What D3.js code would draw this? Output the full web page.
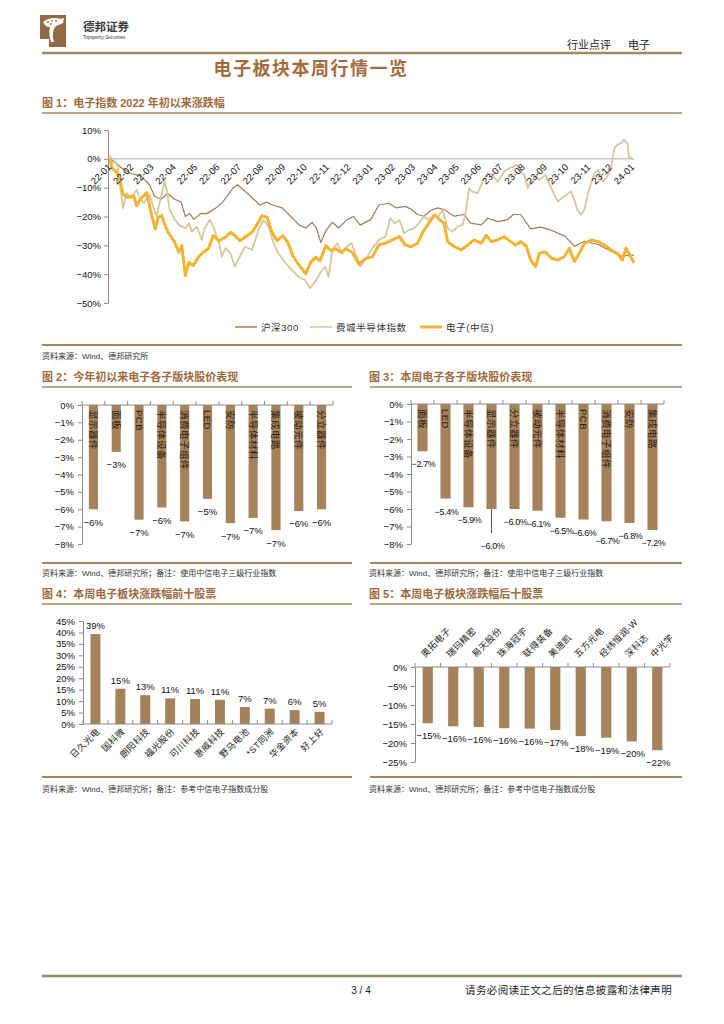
<!DOCTYPE html>
<html>
<head>
<meta charset="utf-8">
<script src="https://cdn.jsdelivr.net/npm/d3@7"></script>
<style>
body { margin: 0; background: #fff; }
svg { display: block; }
text { font-family: "Liberation Sans", "Noto Sans CJK SC", sans-serif; }
</style>
</head>
<body>
<svg id="page" width="724" height="1024"></svg>
<script>
// ---- figure 1: index change since start of 2022 (%)
const hs300 = [
  ["2022-01-04",0],["2022-01-10",-1],["2022-01-19",-3],["2022-02-01",-5],["2022-02-16",-6],["2022-02-28",-9],
  ["2022-03-07",-13],["2022-03-16",-14],["2022-03-25",-12],["2022-04-04",-14],["2022-04-13",-15],["2022-04-19",-20],
  ["2022-04-25",-19],["2022-05-01",-21],["2022-05-10",-19],["2022-05-19",-19],["2022-06-01",-17],["2022-06-10",-15],
  ["2022-06-19",-12],["2022-06-25",-10],["2022-07-01",-9],["2022-07-10",-11],["2022-07-19",-13],["2022-08-01",-16],
  ["2022-08-10",-15],["2022-08-19",-16],["2022-09-01",-17],["2022-09-13",-20],["2022-09-25",-23],["2022-10-04",-24],
  ["2022-10-13",-22],["2022-10-19",-24],["2022-10-25",-29],["2022-11-01",-25],["2022-11-10",-22],["2022-11-19",-24],
  ["2022-12-01",-21],["2022-12-10",-20],["2022-12-19",-23],["2023-01-03",-21],["2023-01-14",-16],["2023-01-28",-15.4],
  ["2023-02-07",-17],["2023-02-20",-16.5],["2023-03-01",-17.6],["2023-03-09",-19.3],["2023-03-18",-19.9],["2023-03-27",-18],
  ["2023-04-06",-17],["2023-04-15",-17.6],["2023-04-29",-19.9],["2023-05-13",-19.3],["2023-05-22",-22.3],["2023-06-06",-22.9],
  ["2023-06-15",-20.6],["2023-06-29",-21.8],["2023-07-12",-21.2],["2023-07-21",-19.3],["2023-07-31",-19.3],["2023-08-14",-24.3],
  ["2023-08-28",-23.7],["2023-09-11",-24.7],["2023-10-01",-26.9],["2023-10-14",-30.3],["2023-10-28",-28.6],["2023-11-16",-29.7],
  ["2023-12-04",-32],["2023-12-18",-33.7],["2024-01-05",-33.4]
];
const sox = [
  ["2022-01-04",1.4],["2022-01-06",-1.5],["2022-01-11",-0.9],["2022-01-14",-2.1],["2022-01-18",-9.6],["2022-01-22",-17.1],
  ["2022-01-27",-11.9],["2022-02-03",-13.6],["2022-02-10",-10.8],["2022-02-15",-13.6],["2022-02-20",-15.4],["2022-02-28",-12.5],
  ["2022-03-05",-16.6],["2022-03-10",-20],["2022-03-15",-14.2],["2022-03-21",-7.9],["2022-03-24",-10.8],["2022-03-28",-17.7],
  ["2022-04-05",-21.2],["2022-04-10",-22.9],["2022-04-19",-24.1],["2022-04-24",-22.3],["2022-04-28",-25.2],["2022-05-05",-23.5],
  ["2022-05-12",-28.1],["2022-05-16",-24.1],["2022-05-23",-21.2],["2022-05-28",-23.5],["2022-06-05",-29.3],["2022-06-09",-33.9],
  ["2022-06-14",-31],["2022-06-21",-32.8],["2022-06-27",-37.4],["2022-07-04",-33.9],["2022-07-11",-30.4],["2022-07-21",-31.6],
  ["2022-07-30",-24.7],["2022-08-06",-21.2],["2022-08-13",-23.5],["2022-08-20",-29.3],["2022-08-27",-32.8],["2022-09-06",-36.3],
  ["2022-09-15",-38.6],["2022-09-24",-40.9],["2022-10-03",-42],["2022-10-10",-44.9],["2022-10-17",-42.6],["2022-10-24",-39.7],
  ["2022-10-31",-37.4],["2022-11-05",-40.9],["2022-11-10",-31.6],["2022-11-17",-29.3],["2022-11-24",-32.8],["2022-11-30",-30.4],
  ["2022-12-07",-29.3],["2022-12-14",-33.9],["2022-12-19",-37.4],["2022-12-28",-34.5],["2023-01-05",-31],["2023-01-14",-28.1],
  ["2023-01-23",-27],["2023-01-30",-20.6],["2023-02-05",-22.3],["2023-02-12",-21.2],["2023-02-18",-25.8],["2023-02-25",-24.7],
  ["2023-03-04",-24.1],["2023-03-11",-22.3],["2023-03-18",-20],["2023-03-25",-21.2],["2023-04-02",-19.4],["2023-04-06",-20.6],
  ["2023-04-13",-17.7],["2023-04-20",-24.1],["2023-04-27",-25.2],["2023-05-04",-23.5],["2023-05-11",-22.9],["2023-05-15",-18.9],
  ["2023-05-20",-10.2],["2023-05-24",-11.3],["2023-06-01",-11.9],["2023-06-08",-7.9],["2023-06-15",-5],["2023-06-22",-5.6],
  ["2023-06-29",-7.9],["2023-07-08",-4.4],["2023-07-15",-3.2],["2023-07-21",-2.7],["2023-07-26",-2.1],["2023-07-31",-4.4],
  ["2023-08-05",-5.6],["2023-08-10",-10.2],["2023-08-14",-7.9],["2023-08-21",-6.2],["2023-08-26",-7.3],["2023-09-03",-5.6],
  ["2023-09-10",-9.1],["2023-09-16",-12.5],["2023-09-21",-14.8],["2023-09-26",-13.7],["2023-10-03",-12.5],["2023-10-09",-11.3],
  ["2023-10-14",-14.2],["2023-10-18",-17.7],["2023-10-23",-19.4],["2023-10-28",-17.7],["2023-11-02",-11.9],["2023-11-07",-7.9],
  ["2023-11-11",-5],["2023-11-16",-3.8],["2023-11-23",-7.9],["2023-11-30",-5.6],["2023-12-04",-2.7],["2023-12-09",3.7],
  ["2023-12-13",4.9],["2023-12-18",5.4],["2023-12-22",6.6],["2023-12-27",5.4],["2023-12-29",0.8],["2024-01-05",-0.3]
];
const elec = [
  ["2022-01-04",0],["2022-01-06",-3],["2022-01-13",-4.7],["2022-01-18",-7.6],["2022-01-22",-12.3],["2022-01-29",-13.4],
  ["2022-02-06",-12.8],["2022-02-10",-16.3],["2022-02-15",-14],["2022-02-20",-12.8],["2022-02-24",-11.7],["2022-02-28",-16.3],
  ["2022-03-03",-19.7],["2022-03-08",-24.3],["2022-03-12",-20.3],["2022-03-17",-19.7],["2022-03-21",-22.6],["2022-03-26",-25.5],
  ["2022-04-03",-28.4],["2022-04-10",-32.4],["2022-04-14",-30.1],["2022-04-19",-40.5],["2022-04-24",-35.9],["2022-04-30",-37],
  ["2022-05-07",-34.1],["2022-05-14",-32.4],["2022-05-21",-31.2],["2022-05-28",-26.6],["2022-06-05",-28.4],["2022-06-14",-27.2],
  ["2022-06-21",-25.5],["2022-06-27",-26.6],["2022-07-04",-28.4],["2022-07-11",-27.2],["2022-07-21",-25.5],["2022-07-27",-23.2],
  ["2022-08-04",-19.7],["2022-08-11",-20.3],["2022-08-18",-25.5],["2022-08-25",-28.4],["2022-09-02",-26.6],["2022-09-09",-29],
  ["2022-09-16",-33.6],["2022-09-25",-37],["2022-10-04",-39.9],["2022-10-11",-35.9],["2022-10-18",-34.1],["2022-10-24",-35.3],
  ["2022-11-01",-30.1],["2022-11-08",-31.8],["2022-11-15",-31.2],["2022-11-22",-32.4],["2022-11-29",-31.2],["2022-12-08",-32.4],
  ["2022-12-17",-36.4],["2022-12-26",-34.7],["2023-01-05",-34],["2023-01-14",-29.9],["2023-01-23",-29.3],["2023-02-02",-28.1],
  ["2023-02-12",-27],["2023-02-20",-29.9],["2023-02-28",-30.5],["2023-03-09",-29.3],["2023-03-18",-24.7],["2023-03-25",-22.3],
  ["2023-04-02",-19.4],["2023-04-09",-21.2],["2023-04-15",-22.3],["2023-04-20",-28.7],["2023-04-29",-30.4],["2023-05-09",-31.6],
  ["2023-05-18",-29.9],["2023-05-27",-28.1],["2023-06-06",-29.3],["2023-06-13",-26.5],["2023-06-20",-28.7],["2023-06-29",-28.1],
  ["2023-07-08",-27],["2023-07-17",-28.7],["2023-07-24",-29.9],["2023-07-31",-28.7],["2023-08-08",-30.4],["2023-08-14",-35.1],
  ["2023-08-21",-37.4],["2023-08-26",-32.8],["2023-09-03",-32.2],["2023-09-12",-34.5],["2023-09-21",-35.1],["2023-09-30",-33.9],
  ["2023-10-07",-31],["2023-10-14",-35.6],["2023-10-21",-32.8],["2023-10-28",-29.3],["2023-11-07",-28.1],["2023-11-16",-28.7],
  ["2023-11-25",-29.9],["2023-12-04",-31.6],["2023-12-13",-32.8],["2023-12-20",-35.1],["2023-12-25",-31],["2023-12-29",-32.8],
  ["2024-01-05",-36]
];
const seriesNames = ["沪深300", "费城半导体指数", "电子(中信)"];
const yTicks1 = [10, 0, -10, -20, -30, -40, -50];

// ---- figure 2 / 3: sub-sector performance (%)
const ytdSectors = ["显示器件", "面板", "PCB", "半导体设备", "消费电子组件", "LED", "安防", "半导体材料", "集成电路", "被动元件", "分立器件"];
const ytdValues = [-6.0, -2.7, -6.6, -5.9, -6.7, -5.4, -6.8, -6.5, -7.2, -6.1, -6.0];
const weekSectors = ["面板", "LED", "半导体设备", "显示器件", "分立器件", "被动元件", "半导体材料", "PCB", "消费电子组件", "安防", "集成电路"];
const weekValues = [-2.7, -5.4, -5.9, -6.0, -6.0, -6.1, -6.5, -6.6, -6.7, -6.8, -7.2];
const sectorTicks = [0, -1, -2, -3, -4, -5, -6, -7, -8];

// ---- figure 4 / 5: top and bottom ten stocks of the week (%)
const topStocks = ["日久光电", "国科微", "朗阳科技", "福光股份", "可川科技", "惠威科技", "野马电池", "*ST同洲", "华金资本", "好上好"];
const topValues = [39.3, 15.4, 12.6, 11.2, 10.9, 10.6, 7.4, 6.7, 6.1, 5.3];
const topTicks = [0, 5, 10, 15, 20, 25, 30, 35, 40, 45];
const bottomStocks = ["奥拓电子", "瑞玛精密", "易天股份", "珠海冠宇", "联得装备", "美迪凯", "五方光电", "经纬恒润-W", "深科达", "中光学"];
const bottomValues = [-14.8, -15.6, -15.8, -16.1, -16.2, -16.6, -18.2, -18.6, -19.6, -21.9];
const bottomTicks = [0, -5, -10, -15, -20, -25];

const BAR = "#a6825a";
const RULE = "#a58660";
const TITLE = "#a0693d";
const AXIS = "#8c8c8c";
const pct = d => d3.format("d")(d) + "%";

const svg = d3.select("#page");

// ---------- page header / footer
const logo = svg.append("g").attr("transform", "translate(40,15)");
logo.append("path").attr("d", "M0,0H26V32H9V24H0Z").attr("fill", "#8f6a45");
logo.append("path")
  .attr("d", "M3,7C8,3 15,2 20,4L24,3L23,8C20,10 17,10 15,12C13,16 12,20 14,27L11,27C9,21 9,16 10,12C7,12 5,11 3,7Z")
  .attr("fill", "#fff");
[[8, 7], [12, 6], [16, 6], [11, 9]].forEach(p =>
  logo.append("circle").attr("cx", p[0]).attr("cy", p[1]).attr("r", 0.9).attr("fill", "#8f6a45"));
logo.append("circle").attr("cx", 2).attr("cy", 15).attr("r", 1.2).attr("fill", "#8f6a45");

svg.append("text").attr("x", 83).attr("y", 31).text("德邦证券")
  .attr("font-size", 11.5).attr("font-weight", "bold").attr("fill", "#3a3a3a");
svg.append("text").attr("x", 83).attr("y", 39).text("Topsperity Securities")
  .attr("font-size", 4.6).attr("fill", "#3a3a3a");
svg.append("text").attr("x", 567).attr("y", 49).text("行业点评")
  .attr("font-size", 11).attr("fill", "#222");
svg.append("text").attr("x", 628).attr("y", 49).text("电子")
  .attr("font-size", 11).attr("fill", "#222");

function rule(x0, x1, y, w) {
  svg.append("line").attr("x1", x0).attr("x2", x1).attr("y1", y).attr("y2", y)
    .attr("stroke", RULE).attr("stroke-width", w);
}
rule(42, 682, 53, 2.5);
svg.append("text").attr("x", 311).attr("y", 75).attr("text-anchor", "middle")
  .text("电子板块本周行情一览")
  .attr("font-size", 18).attr("font-weight", "bold").attr("letter-spacing", 1.5).attr("fill", "#a66a3c");

rule(42, 682, 976, 2.5);
svg.append("text").attr("x", 361).attr("y", 994).attr("text-anchor", "middle").text("3 / 4")
  .attr("font-size", 10).attr("fill", "#222");
svg.append("text").attr("x", 465).attr("y", 994).text("请务必阅读正文之后的信息披露和法律声明")
  .attr("font-size", 10.5).attr("letter-spacing", 0.4).attr("fill", "#222");

function figTitle(x, y, s) {
  svg.append("text").attr("x", x).attr("y", y).text(s)
    .attr("font-size", 11).attr("font-weight", "bold").attr("fill", TITLE);
}
function source(x, y, s) {
  svg.append("text").attr("x", x).attr("y", y).text(s)
    .attr("font-size", 8).attr("fill", "#333");
}

// ---------- figure 1
figTitle(42, 107, "图 1：电子指数 2022 年初以来涨跌幅");
rule(42, 682, 113, 1.5);
rule(42, 682, 345, 2);
source(42, 359, "资料来源：Wind、德邦研究所");

const parse = d3.timeParse("%Y-%m-%d");
const x1 = d3.scaleTime().domain([parse("2022-01-01"), parse("2024-01-01")]).range([108, 631]);
const y1 = d3.scaleLinear().domain([-50, 10]).range([303, 130]);
const f1 = svg.append("g");

f1.append("g").attr("transform", "translate(108,0)")
  .call(d3.axisLeft(y1).tickValues(yTicks1).tickSize(4).tickSizeOuter(0).tickFormat(pct))
  .call(g => g.select(".domain").attr("stroke", AXIS))
  .call(g => g.selectAll(".tick line").attr("stroke", AXIS))
  .call(g => g.selectAll(".tick text").attr("font-size", 9.5).attr("fill", "#111")
    .attr("font-family", "Liberation Sans"));

f1.append("line").attr("x1", 108).attr("x2", 633).attr("y1", y1(0)).attr("y2", y1(0))
  .attr("stroke", "#a8a8a8").attr("stroke-width", 1);

const line1 = d3.line().x(d => x1(parse(d[0]))).y(d => y1(d[1]));
const lineStyles = [
  { data: hs300, color: "#a67c52", width: 1.2 },
  { data: sox, color: "#d8c69e", width: 1.8 },
  { data: elec, color: "#f5b32f", width: 3 }
];
lineStyles.forEach(s => {
  f1.append("path").datum(s.data).attr("d", line1)
    .attr("fill", "none").attr("stroke", s.color).attr("stroke-width", s.width)
    .attr("stroke-linejoin", "round");
});

const months = d3.timeMonth.range(parse("2022-01-01"), parse("2024-01-02"));
f1.selectAll(".mlab").data(months).enter().append("text")
  .attr("class", "mlab")
  .attr("transform", d => `translate(${x1(d) + 4},${y1(0) + 9}) rotate(-45)`)
  .attr("text-anchor", "end")
  .attr("font-size", 9.5).attr("fill", "#111")
  .text(d3.timeFormat("%y-%m"));

// legend
const legendX = [235, 310, 420];
seriesNames.forEach((name, i) => {
  const g = f1.append("g").attr("transform", `translate(${legendX[i]},327)`);
  g.append("line").attr("x1", 0).attr("x2", 22).attr("y1", 0).attr("y2", 0)
    .attr("stroke", lineStyles[i].color).attr("stroke-width", i === 2 ? 3 : 1.5);
  g.append("text").attr("x", 26).attr("y", 3.5).text(name)
    .attr("font-size", 9.5).attr("letter-spacing", 0.6).attr("fill", "#333");
});

// ---------- bar chart helper
function barChart(cfg) {
  const g = svg.append("g");
  const x = d3.scaleBand().domain(cfg.cats).range([cfg.left, cfg.right]).paddingInner(cfg.pad).paddingOuter(cfg.pad / 2);
  const y = d3.scaleLinear().domain(cfg.domain).range([cfg.bottom, cfg.top]);
  const zero = y(0);

  g.append("g").attr("transform", `translate(${cfg.left},0)`)
    .call(d3.axisLeft(y).tickValues(cfg.ticks).tickSize(4).tickSizeOuter(0).tickFormat(pct))
    .call(a => a.select(".domain").attr("stroke", AXIS))
    .call(a => a.selectAll(".tick line").attr("stroke", AXIS))
    .call(a => a.selectAll(".tick text").attr("font-size", 9.5).attr("fill", "#111")
      .attr("font-family", "Liberation Sans").attr("dx", -1));

  g.selectAll(".bar").data(cfg.vals).enter().append("rect")
    .attr("x", (d, i) => x(cfg.cats[i]))
    .attr("width", x.bandwidth())
    .attr("y", d => Math.min(y(d), zero))
    .attr("height", d => Math.abs(y(d) - zero))
    .attr("fill", BAR);

  // category axis with tick marks between bars
  g.append("line").attr("x1", cfg.left).attr("x2", cfg.right).attr("y1", zero).attr("y2", zero)
    .attr("stroke", AXIS);
  d3.range(cfg.cats.length + 1).forEach(i => {
    const tx = cfg.left + i * (cfg.right - cfg.left) / cfg.cats.length;
    g.append("line").attr("x1", tx).attr("x2", tx).attr("y1", zero).attr("y2", zero - 4)
      .attr("stroke", AXIS);
  });
  const cx = i => x(cfg.cats[i]) + x.bandwidth() / 2;
  return { g, x, y, cx, zero };
}

// ---------- figure 2
figTitle(42, 381, "图 2：今年初以来电子各子版块股价表现");
rule(42, 352, 387, 1.5);
rule(42, 352, 563, 2);
source(42, 576, "资料来源：Wind、德邦研究所；备注：使用中信电子三级行业指数");

const c2 = barChart({ cats: ytdSectors, vals: ytdValues, left: 82, right: 333, top: 405, bottom: 544,
  domain: [-8, 0], ticks: sectorTicks, pad: 0.6 });
ytdSectors.forEach((s, i) => {
  c2.g.append("text").attr("transform", `translate(${c2.cx(i)},${c2.zero + 5}) rotate(90)`)
    .attr("dominant-baseline", "central").attr("font-size", 9.5).attr("letter-spacing", 0.5)
    .attr("fill", "#2a2118").text(s);
  c2.g.append("text").attr("x", c2.cx(i)).attr("y", c2.y(ytdValues[i]) + 16.5)
    .attr("text-anchor", "middle").attr("font-size", 9.5).attr("fill", "#111")
    .text(d3.format(".0f")(ytdValues[i]) + "%");
});

// ---------- figure 3
figTitle(369, 381, "图 3：本周电子各子版块股价表现");
rule(370, 682, 387, 1.5);
rule(370, 682, 563, 2);
source(369, 576, "资料来源：Wind、德邦研究所；备注：使用中信电子三级行业指数");

const c3 = barChart({ cats: weekSectors, vals: weekValues, left: 411, right: 664, top: 404, bottom: 544,
  domain: [-8, 0], ticks: sectorTicks, pad: 0.56 });
const weekLabelDrop = [0, 0, 0, 24, 0, 0, 0, 0, 7, 0, 0];
weekSectors.forEach((s, i) => {
  c3.g.append("text").attr("transform", `translate(${c3.cx(i)},${c3.zero + 5}) rotate(90)`)
    .attr("dominant-baseline", "central").attr("font-size", 9.5).attr("letter-spacing", 0.5)
    .attr("fill", "#2a2118").text(s);
  const yEnd = c3.y(weekValues[i]);
  if (weekLabelDrop[i] > 10) {
    c3.g.append("line").attr("x1", c3.cx(i)).attr("x2", c3.cx(i)).attr("y1", yEnd).attr("y2", yEnd + weekLabelDrop[i])
      .attr("stroke", "#555");
  }
  c3.g.append("text").attr("x", c3.cx(i) + 1).attr("y", yEnd + 16 + weekLabelDrop[i])
    .attr("text-anchor", "middle").attr("font-size", 9).attr("letter-spacing", -0.4).attr("fill", "#111")
    .text(d3.format(".1f")(weekValues[i]) + "%");
});

// ---------- figure 4
figTitle(42, 598, "图 4：本周电子板块涨跌幅前十股票");
rule(42, 352, 604, 1.5);
rule(42, 352, 777, 2);
source(42, 792, "资料来源：Wind、德邦研究所；备注：参考中信电子指数成分股");

const c4 = barChart({ cats: topStocks, vals: topValues, left: 83, right: 332, top: 621, bottom: 724,
  domain: [0, 45], ticks: topTicks, pad: 0.6 });
topStocks.forEach((s, i) => {
  c4.g.append("text").attr("x", c4.cx(i)).attr("y", c4.y(topValues[i]) - 5)
    .attr("text-anchor", "middle").attr("font-size", 9.5).attr("fill", "#111")
    .text(d3.format(".0f")(topValues[i]) + "%");
  c4.g.append("text").attr("transform", `translate(${c4.cx(i) + 5},${c4.zero + 8}) rotate(-45)`)
    .attr("text-anchor", "end").attr("font-size", 9).attr("letter-spacing", 0.4)
    .attr("fill", "#222").text(s);
});

// ---------- figure 5
figTitle(369, 598, "图 5：本周电子板块涨跌幅后十股票");
rule(370, 682, 604, 1.5);
rule(370, 682, 777, 2);
source(369, 792, "资料来源：Wind、德邦研究所；备注：参考中信电子指数成分股");

const c5 = barChart({ cats: bottomStocks, vals: bottomValues, left: 415, right: 670, top: 667, bottom: 762,
  domain: [-25, 0], ticks: bottomTicks, pad: 0.6 });
bottomStocks.forEach((s, i) => {
  c5.g.append("text").attr("x", c5.cx(i) + 1).attr("y", c5.y(bottomValues[i]) + 16)
    .attr("text-anchor", "middle").attr("font-size", 9.5).attr("fill", "#111")
    .text(d3.format(".0f")(bottomValues[i]) + "%");
  c5.g.append("text").attr("transform", `translate(${c5.cx(i) - 3},${c5.zero - 9}) rotate(-45)`)
    .attr("text-anchor", "start").attr("font-size", 9).attr("letter-spacing", 0.4)
    .attr("fill", "#222").text(s);
});
</script>
</body>
</html>
